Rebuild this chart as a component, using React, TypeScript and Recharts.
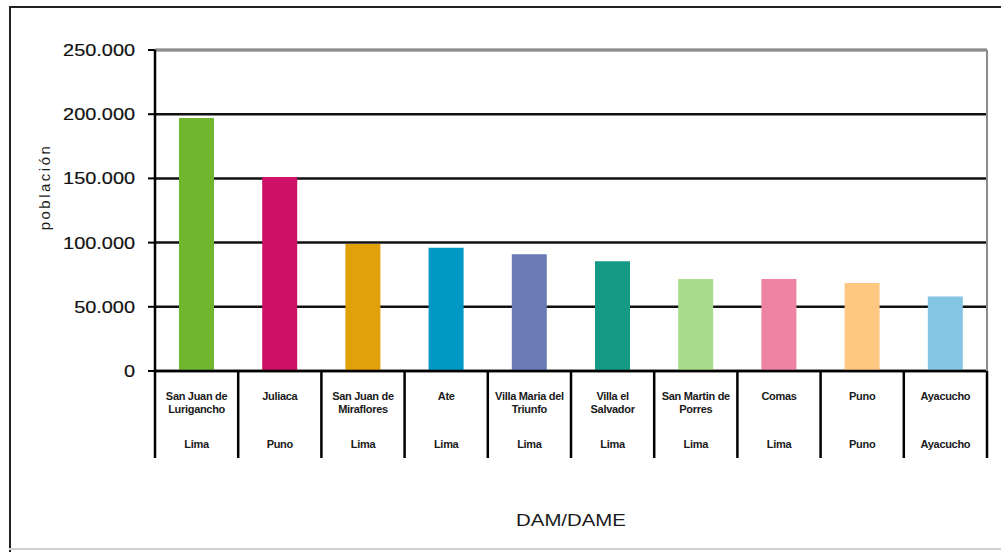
import React from 'react';
import { BarChart, Bar, XAxis, YAxis, CartesianGrid, ReferenceLine, Cell } from 'recharts';

const districtLines: string[][] = [
  ['San Juan de', 'Lurigancho'],
  ['Juliaca'],
  ['San Juan de', 'Miraflores'],
  ['Ate'],
  ['Villa Maria del', 'Triunfo'],
  ['Villa el', 'Salvador'],
  ['San Martin de', 'Porres'],
  ['Comas'],
  ['Puno'],
  ['Ayacucho'],
];
const departments = ['Lima', 'Puno', 'Lima', 'Lima', 'Lima', 'Lima', 'Lima', 'Lima', 'Puno', 'Ayacucho'];
const population = [197000, 151000, 99000, 96000, 91000, 85500, 71700, 71700, 68500, 58000];
const barColors = ['#70B62F', '#CC1166', '#E0A10A', '#0099C6', '#6A7AB5', '#159A86', '#A8DC8C', '#EE84A4', '#FFC880', '#84C4E4'];
const yTicks = [0, 50000, 100000, 150000, 200000, 250000];

const data = districtLines.map((lines, i) => ({
  name: lines.join(' '),
  idx: i,
  value: population[i],
}));

const W = 1001;
const H = 552;
const M = { top: 50, right: 14, left: 0, bottom: 10 };
const Y_W = 155;
const X_H = 171;
const PLOT_W = W - M.left - M.right - Y_W;
const BAND = PLOT_W / data.length;
const FONT = '"Liberation Sans", Arial, sans-serif';

const fmt = (v: number) => (v === 0 ? '0' : v.toLocaleString('de-DE'));

const YTick = (props: any) => {
  const { x, y, payload } = props;
  return (
    <g transform={`translate(${x},${y}) scale(1.17,1)`}>
      <text x={0} y={0} dy={6} textAnchor="end" fontSize={17} fontFamily={FONT} fill="#111" stroke="#111" strokeWidth={0.2}>
        {fmt(payload.value)}
      </text>
    </g>
  );
};

const XTick = (props: any) => {
  const { x, y, payload, index } = props;
  const i = payload.index ?? index;
  const lines = districtLines[i] || [];
  const left = x - BAND / 2;
  const right = x + BAND / 2;
  const common = {
    textAnchor: 'middle' as const,
    fontSize: 11,
    fontWeight: 'bold' as const,
    letterSpacing: -0.3,
    fontFamily: FONT,
    fill: '#1a1a1a',
  };
  return (
    <g>
      <line x1={left} y1={y} x2={left} y2={y + 87} stroke="#000" strokeWidth={2.5} />
      {i === data.length - 1 && (
        <line x1={right} y1={y} x2={right} y2={y + 87} stroke="#000" strokeWidth={2.5} />
      )}
      {lines.map((t, k) => (
        <text key={k} x={x} y={y + 29 + k * 13} {...common}>
          {t}
        </text>
      ))}
      <text x={x} y={y + 77} {...common}>
        {departments[i]}
      </text>
    </g>
  );
};

const XTitle = (props: any) => {
  const vb = props.viewBox || {};
  const cx = vb.x + vb.width / 2;
  return (
    <g transform={`translate(${cx},${vb.y + 155}) scale(1.2,1)`}>
      <text x={0} y={0} textAnchor="middle" fontSize={17} fontFamily={FONT} fill="#1a1a1a">
        DAM/DAME
      </text>
    </g>
  );
};

const YTitle = (props: any) => {
  const vb = props.viewBox || {};
  const cy = vb.y + 137;
  return (
    <text
      x={0}
      y={0}
      transform={`translate(50,${cy}) rotate(-90)`}
      textAnchor="middle"
      fontSize={15}
      letterSpacing={2.5}
      fontFamily={FONT}
      fill="#1a1a1a"
    >
      población
    </text>
  );
};

export default function App() {
  return (
    <div style={{ position: 'absolute', left: 0, top: 0, width: W, height: H, background: '#fff' }}>
      <div style={{ position: 'absolute', left: 9, top: 6, width: W - 9, height: 2, background: '#222' }} />
      <div style={{ position: 'absolute', left: 9, top: 6, width: 2, height: H - 6, background: '#222' }} />
      <div style={{ position: 'absolute', left: 9, top: 548, width: W - 9, height: 2, background: '#d0d0d0' }} />
      <BarChart width={W} height={H} data={data} margin={M} barSize={35}>
        <CartesianGrid vertical={false} stroke="#111" strokeWidth={2.5} />
        <ReferenceLine y={250000} stroke="#8c8c8c" strokeWidth={2.5} />
        <XAxis
          dataKey="name"
          interval={0}
          height={X_H}
          tickSize={0}
          tickMargin={0}
          tickLine={false}
          axisLine={{ stroke: '#000', strokeWidth: 2.5 }}
          tick={<XTick />}
          label={<XTitle />}
        />
        <YAxis
          width={Y_W}
          domain={[0, 250000]}
          ticks={yTicks}
          interval={0}
          tickSize={7}
          tickMargin={13}
          tickLine={{ stroke: '#000', strokeWidth: 2 }}
          axisLine={{ stroke: '#000', strokeWidth: 2.5 }}
          tick={<YTick />}
          label={<YTitle />}
        />
        <Bar dataKey="value" isAnimationActive={false}>
          {data.map((d, i) => (
            <Cell key={d.name} fill={barColors[i]} />
          ))}
        </Bar>
      </BarChart>
      <div style={{ position: 'absolute', left: W - M.right - 1, top: M.top, width: 2, height: 321, background: '#8c8c8c' }} />
    </div>
  );
}
